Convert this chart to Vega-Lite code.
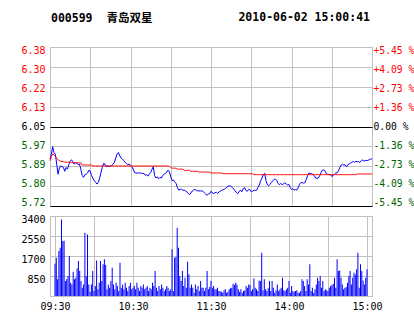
{
"$schema":"https://vega.github.io/schema/vega-lite/v6.json",
"padding":{"left":20,"top":12,"right":0,"bottom":4},
"background":"white",
"title":{"text":"2010-06-02 15:00:41","anchor":"end","frame":"group","offset":0,"dy":11.5,"dx":-2,"baseline":"top","font":"DejaVu Sans Mono","fontSize":11.5,"fontWeight":"bold","color":"black"},
"config":{
"view":{"stroke":"#c0c0c0","strokeWidth":1},
"axis":{"labelFont":"DejaVu Sans Mono","labelFontSize":10,"labelColor":"black","ticks":false,"tickSize":0,"domain":false,"gridColor":"#c0c0c0","gridOpacity":1,"gridWidth":1,"labelOverlap":false,"labelBound":false,"labelFlush":false},
"title":{"font":"DejaVu Sans Mono, Noto Sans CJK SC","fontSize":11.5,"fontWeight":"bold","color":"black","baseline":"top"}
},
"datasets":{"m":[
{"t":0,"p":5.915,"a":5.908,"v":1373},{"t":1,"p":5.935,"a":5.925,"v":1628},{"t":2,"p":5.966,"a":5.936,"v":707},{"t":3,"p":5.942,"a":5.933,"v":1911},{"t":4,"p":5.935,"a":5.926,"v":2053},{"t":5,"p":5.894,"a":5.918,"v":3255},{"t":6,"p":5.852,"a":5.912,"v":2337},{"t":7,"p":5.877,"a":5.908,"v":2350},{"t":8,"p":5.887,"a":5.906,"v":636},{"t":9,"p":5.883,"a":5.905,"v":707},
{"t":10,"p":5.880,"a":5.904,"v":848},{"t":11,"p":5.864,"a":5.902,"v":1699},{"t":12,"p":5.880,"a":5.902,"v":565},{"t":13,"p":5.873,"a":5.902,"v":494},{"t":14,"p":5.891,"a":5.902,"v":1033},{"t":15,"p":5.905,"a":5.902,"v":707},{"t":16,"p":5.912,"a":5.900,"v":778},{"t":17,"p":5.904,"a":5.900,"v":1174},{"t":18,"p":5.894,"a":5.900,"v":1486},{"t":19,"p":5.899,"a":5.900,"v":1061},
{"t":20,"p":5.897,"a":5.900,"v":636},{"t":21,"p":5.891,"a":5.899,"v":353},{"t":22,"p":5.894,"a":5.899,"v":494},{"t":23,"p":5.873,"a":5.899,"v":2690},{"t":24,"p":5.846,"a":5.890,"v":848},{"t":25,"p":5.839,"a":5.890,"v":2618},{"t":26,"p":5.850,"a":5.890,"v":494},{"t":27,"p":5.852,"a":5.890,"v":183},{"t":28,"p":5.857,"a":5.890,"v":494},{"t":29,"p":5.869,"a":5.890,"v":1061},
{"t":30,"p":5.864,"a":5.890,"v":211},{"t":31,"p":5.846,"a":5.890,"v":424},{"t":32,"p":5.835,"a":5.886,"v":1514},{"t":33,"p":5.825,"a":5.886,"v":283},{"t":34,"p":5.818,"a":5.886,"v":565},{"t":35,"p":5.811,"a":5.886,"v":1486},{"t":36,"p":5.818,"a":5.886,"v":636},{"t":37,"p":5.836,"a":5.886,"v":1345},{"t":38,"p":5.859,"a":5.886,"v":1557},{"t":39,"p":5.880,"a":5.886,"v":1316},
{"t":40,"p":5.897,"a":5.886,"v":283},{"t":41,"p":5.894,"a":5.886,"v":494},{"t":42,"p":5.883,"a":5.886,"v":353},{"t":43,"p":5.887,"a":5.886,"v":636},{"t":44,"p":5.884,"a":5.886,"v":1200},{"t":45,"p":5.886,"a":5.886,"v":494},{"t":46,"p":5.888,"a":5.886,"v":283},{"t":47,"p":5.894,"a":5.886,"v":565},{"t":48,"p":5.901,"a":5.886,"v":424},{"t":49,"p":5.919,"a":5.886,"v":211},
{"t":50,"p":5.935,"a":5.886,"v":1415},{"t":51,"p":5.942,"a":5.886,"v":353},{"t":52,"p":5.928,"a":5.886,"v":494},{"t":53,"p":5.919,"a":5.886,"v":283},{"t":54,"p":5.915,"a":5.886,"v":565},{"t":55,"p":5.908,"a":5.886,"v":353},{"t":56,"p":5.901,"a":5.886,"v":211},{"t":57,"p":5.897,"a":5.886,"v":424},{"t":58,"p":5.891,"a":5.886,"v":565},{"t":59,"p":5.894,"a":5.886,"v":283},
{"t":60,"p":5.889,"a":5.886,"v":353},{"t":61,"p":5.883,"a":5.886,"v":424},{"t":62,"p":5.873,"a":5.886,"v":283},{"t":63,"p":5.859,"a":5.886,"v":565},{"t":64,"p":5.857,"a":5.886,"v":353},{"t":65,"p":5.857,"a":5.886,"v":211},{"t":66,"p":5.857,"a":5.886,"v":424},{"t":67,"p":5.857,"a":5.886,"v":353},{"t":68,"p":5.857,"a":5.886,"v":494},{"t":69,"p":5.855,"a":5.886,"v":283},
{"t":70,"p":5.855,"a":5.886,"v":353},{"t":71,"p":5.848,"a":5.886,"v":424},{"t":72,"p":5.850,"a":5.886,"v":211},{"t":73,"p":5.844,"a":5.886,"v":353},{"t":74,"p":5.852,"a":5.886,"v":283},{"t":75,"p":5.859,"a":5.886,"v":565},{"t":76,"p":5.872,"a":5.886,"v":424},{"t":77,"p":5.883,"a":5.886,"v":1061},{"t":78,"p":5.846,"a":5.886,"v":353},{"t":79,"p":5.836,"a":5.886,"v":211},
{"t":80,"p":5.841,"a":5.886,"v":424},{"t":81,"p":5.833,"a":5.886,"v":283},{"t":82,"p":5.839,"a":5.886,"v":494},{"t":83,"p":5.836,"a":5.886,"v":353},{"t":84,"p":5.847,"a":5.886,"v":211},{"t":85,"p":5.852,"a":5.886,"v":283},{"t":86,"p":5.855,"a":5.886,"v":424},{"t":87,"p":5.861,"a":5.886,"v":353},{"t":88,"p":5.869,"a":5.886,"v":211},{"t":89,"p":5.862,"a":5.884,"v":283},
{"t":90,"p":5.841,"a":5.881,"v":1982},{"t":91,"p":5.825,"a":5.877,"v":211},{"t":92,"p":5.828,"a":5.877,"v":1628},{"t":93,"p":5.819,"a":5.877,"v":1657},{"t":94,"p":5.814,"a":5.877,"v":2900},{"t":95,"p":5.796,"a":5.873,"v":2053},{"t":96,"p":5.786,"a":5.873,"v":848},{"t":97,"p":5.789,"a":5.873,"v":636},{"t":98,"p":5.790,"a":5.873,"v":1060},{"t":99,"p":5.785,"a":5.873,"v":424},
{"t":100,"p":5.786,"a":5.868,"v":778},{"t":101,"p":5.783,"a":5.868,"v":353},{"t":102,"p":5.779,"a":5.868,"v":1458},{"t":103,"p":5.772,"a":5.868,"v":920},{"t":104,"p":5.767,"a":5.868,"v":353},{"t":105,"p":5.774,"a":5.864,"v":494},{"t":106,"p":5.782,"a":5.864,"v":353},{"t":107,"p":5.786,"a":5.864,"v":140},{"t":108,"p":5.789,"a":5.864,"v":494},{"t":109,"p":5.785,"a":5.864,"v":283},
{"t":110,"p":5.783,"a":5.864,"v":424},{"t":111,"p":5.783,"a":5.861,"v":211},{"t":112,"p":5.782,"a":5.861,"v":636},{"t":113,"p":5.783,"a":5.861,"v":353},{"t":114,"p":5.781,"a":5.861,"v":353},{"t":115,"p":5.775,"a":5.861,"v":211},{"t":116,"p":5.770,"a":5.861,"v":353},{"t":117,"p":5.764,"a":5.861,"v":1061},{"t":118,"p":5.770,"a":5.861,"v":283},{"t":119,"p":5.772,"a":5.861,"v":381},
{"t":120,"p":5.781,"a":5.857,"v":636},{"t":121,"p":5.774,"a":5.857,"v":353},{"t":122,"p":5.772,"a":5.857,"v":424},{"t":123,"p":5.775,"a":5.857,"v":283},{"t":124,"p":5.777,"a":5.857,"v":283},{"t":125,"p":5.772,"a":5.857,"v":353},{"t":126,"p":5.779,"a":5.857,"v":211},{"t":127,"p":5.782,"a":5.857,"v":211},{"t":128,"p":5.785,"a":5.857,"v":183},{"t":129,"p":5.788,"a":5.854,"v":140},
{"t":130,"p":5.790,"a":5.854,"v":240},{"t":131,"p":5.793,"a":5.854,"v":283},{"t":132,"p":5.799,"a":5.854,"v":140},{"t":133,"p":5.803,"a":5.854,"v":183},{"t":134,"p":5.804,"a":5.854,"v":283},{"t":135,"p":5.801,"a":5.854,"v":325},{"t":136,"p":5.797,"a":5.854,"v":353},{"t":137,"p":5.790,"a":5.854,"v":522},{"t":138,"p":5.783,"a":5.854,"v":466},{"t":139,"p":5.775,"a":5.854,"v":565},
{"t":140,"p":5.771,"a":5.854,"v":494},{"t":141,"p":5.781,"a":5.854,"v":283},{"t":142,"p":5.786,"a":5.854,"v":183},{"t":143,"p":5.779,"a":5.854,"v":283},{"t":144,"p":5.793,"a":5.854,"v":140},{"t":145,"p":5.796,"a":5.854,"v":211},{"t":146,"p":5.785,"a":5.854,"v":240},{"t":147,"p":5.781,"a":5.854,"v":424},{"t":148,"p":5.788,"a":5.854,"v":353},{"t":149,"p":5.788,"a":5.854,"v":494},
{"t":150,"p":5.779,"a":5.854,"v":466},{"t":151,"p":5.781,"a":5.854,"v":211},{"t":152,"p":5.785,"a":5.850,"v":283},{"t":153,"p":5.785,"a":5.850,"v":749},{"t":154,"p":5.785,"a":5.850,"v":353},{"t":155,"p":5.797,"a":5.850,"v":283},{"t":156,"p":5.807,"a":5.850,"v":211},{"t":157,"p":5.825,"a":5.850,"v":664},{"t":158,"p":5.836,"a":5.850,"v":636},{"t":159,"p":5.850,"a":5.850,"v":1840},
{"t":160,"p":5.855,"a":5.850,"v":240},{"t":161,"p":5.825,"a":5.850,"v":707},{"t":162,"p":5.808,"a":5.850,"v":283},{"t":163,"p":5.804,"a":5.850,"v":211},{"t":164,"p":5.810,"a":5.850,"v":325},{"t":165,"p":5.818,"a":5.850,"v":636},{"t":166,"p":5.824,"a":5.850,"v":211},{"t":167,"p":5.830,"a":5.850,"v":636},{"t":168,"p":5.832,"a":5.850,"v":353},{"t":169,"p":5.826,"a":5.850,"v":140},
{"t":170,"p":5.814,"a":5.850,"v":240},{"t":171,"p":5.808,"a":5.850,"v":494},{"t":172,"p":5.814,"a":5.850,"v":211},{"t":173,"p":5.808,"a":5.850,"v":283},{"t":174,"p":5.811,"a":5.850,"v":353},{"t":175,"p":5.817,"a":5.850,"v":778},{"t":176,"p":5.812,"a":5.850,"v":240},{"t":177,"p":5.807,"a":5.850,"v":211},{"t":178,"p":5.810,"a":5.850,"v":283},{"t":179,"p":5.797,"a":5.850,"v":353},
{"t":180,"p":5.789,"a":5.850,"v":636},{"t":181,"p":5.792,"a":5.850,"v":140},{"t":182,"p":5.786,"a":5.850,"v":424},{"t":183,"p":5.788,"a":5.850,"v":211},{"t":184,"p":5.786,"a":5.850,"v":183},{"t":185,"p":5.796,"a":5.850,"v":211},{"t":186,"p":5.810,"a":5.850,"v":240},{"t":187,"p":5.817,"a":5.850,"v":140},{"t":188,"p":5.817,"a":5.850,"v":140},{"t":189,"p":5.815,"a":5.850,"v":211},
{"t":190,"p":5.817,"a":5.850,"v":707},{"t":191,"p":5.830,"a":5.850,"v":636},{"t":192,"p":5.846,"a":5.850,"v":424},{"t":193,"p":5.857,"a":5.850,"v":211},{"t":194,"p":5.855,"a":5.850,"v":707},{"t":195,"p":5.855,"a":5.850,"v":494},{"t":196,"p":5.851,"a":5.850,"v":1345},{"t":197,"p":5.846,"a":5.850,"v":211},{"t":198,"p":5.835,"a":5.850,"v":353},{"t":199,"p":5.835,"a":5.850,"v":140},
{"t":200,"p":5.836,"a":5.850,"v":283},{"t":201,"p":5.846,"a":5.850,"v":494},{"t":202,"p":5.859,"a":5.850,"v":778},{"t":203,"p":5.869,"a":5.850,"v":636},{"t":204,"p":5.870,"a":5.850,"v":848},{"t":205,"p":5.865,"a":5.850,"v":353},{"t":206,"p":5.854,"a":5.850,"v":636},{"t":207,"p":5.851,"a":5.850,"v":211},{"t":208,"p":5.850,"a":5.850,"v":283},{"t":209,"p":5.851,"a":5.850,"v":240},
{"t":210,"p":5.843,"a":5.850,"v":211},{"t":211,"p":5.846,"a":5.850,"v":353},{"t":212,"p":5.852,"a":5.850,"v":424},{"t":213,"p":5.857,"a":5.850,"v":466},{"t":214,"p":5.858,"a":5.850,"v":522},{"t":215,"p":5.866,"a":5.850,"v":778},{"t":216,"p":5.880,"a":5.850,"v":353},{"t":217,"p":5.890,"a":5.850,"v":1557},{"t":218,"p":5.893,"a":5.850,"v":1061},{"t":219,"p":5.890,"a":5.850,"v":1089},
{"t":220,"p":5.891,"a":5.850,"v":778},{"t":221,"p":5.883,"a":5.850,"v":494},{"t":222,"p":5.891,"a":5.850,"v":283},{"t":223,"p":5.895,"a":5.850,"v":353},{"t":224,"p":5.898,"a":5.850,"v":381},{"t":225,"p":5.902,"a":5.850,"v":565},{"t":226,"p":5.905,"a":5.850,"v":848},{"t":227,"p":5.901,"a":5.850,"v":1061},{"t":228,"p":5.906,"a":5.850,"v":494},{"t":229,"p":5.904,"a":5.853,"v":778},
{"t":230,"p":5.904,"a":5.853,"v":990},{"t":231,"p":5.901,"a":5.853,"v":919},{"t":232,"p":5.908,"a":5.853,"v":1132},{"t":233,"p":5.911,"a":5.853,"v":1840},{"t":234,"p":5.906,"a":5.853,"v":353},{"t":235,"p":5.909,"a":5.853,"v":1345},{"t":236,"p":5.909,"a":5.853,"v":1061},{"t":237,"p":5.909,"a":5.853,"v":664},{"t":238,"p":5.913,"a":5.853,"v":494},{"t":239,"p":5.915,"a":5.853,"v":778},
{"t":240,"p":5.915,"a":5.853,"v":1132}
]},
"spacing":5,
"vconcat":[
{
"width":322,"height":159,
"title":{"text":"000599\u00a0\u00a0青岛双星","anchor":"start","frame":"group","offset":21,"dx":1},
"data":{"name":"m"},
"layer":[
{"mark":{"type":"line","color":"#0000ff","strokeWidth":1},
"encoding":{
"x":{"field":"t","type":"quantitative","title":null,"scale":{"domain":[0,240],"nice":false,"zero":false},
"axis":{"values":[0,30,60,90,120,150,180,210,240],"labels":false,"grid":true}},
"y":{"field":"p","type":"quantitative","title":null,"scale":{"domain":[5.72,6.38],"nice":false,"zero":false},
"axis":{"orient":"left","values":[5.72,5.8025,5.885,5.9675,6.05,6.1325,6.215,6.2975,6.38],"labelExpr":"format(datum.value + 0.0001, '.2f')","labelPadding":5,"labelBaseline":"middle","labelOffset":{"expr":"3.4 - 0.925 * (6.38 - datum.value) / 0.0825"},
"labelColor":{"condition":[{"test":"datum.value > 6.06","value":"#ff0000"},{"test":"datum.value < 6.04","value":"#006400"}],"value":"black"},
"gridColor":{"condition":{"test":"datum.value == 6.05 || datum.value == 5.72","value":"black"},"value":"#c0c0c0"}}}
}},
{"mark":{"type":"line","color":"#ff0000","strokeWidth":1},
"encoding":{
"x":{"field":"t","type":"quantitative","title":null},
"y":{"field":"a","type":"quantitative","title":null,"scale":{"domain":[5.72,6.38],"nice":false,"zero":false},
"axis":{"orient":"right","grid":false,"values":[5.72,5.8025,5.885,5.9675,6.05,6.1325,6.215,6.2975,6.38],"labelExpr":"(datum.value > 6.06 ? '+' : datum.value < 6.04 ? '-' : '\u00a0') + format(abs(datum.value - 6.05) / 6.05 * 100, '.2f') + '\u00a0%'","labelPadding":1,"labelFontSize":9.7,"labelBaseline":"middle","labelOffset":{"expr":"3.4 - 0.925 * (6.38 - datum.value) / 0.0825"},
"labelColor":{"condition":[{"test":"datum.value > 6.06","value":"#ff0000"},{"test":"datum.value < 6.04","value":"#006400"}],"value":"black"}}}
}}
],
"resolve":{"scale":{"y":"independent"},"axis":{"y":"independent"}}
},
{
"width":322,"height":80,
"data":{"name":"m"},
"mark":{"type":"bar","color":"#0000ff","width":1},
"encoding":{
"x":{"field":"t","type":"quantitative","title":null,"scale":{"domain":[0,240],"nice":false,"zero":false},
"axis":{"values":[0,30,60,90,120,150,180,210,240],"grid":true,"labelPadding":5,"labelExpr":"datum.value == 0 ? '09:30' : datum.value == 60 ? '10:30' : datum.value == 120 ? '11:30' : datum.value == 180 ? '14:00' : datum.value == 240 ? '15:00' : ''"}},
"y":{"field":"v","type":"quantitative","title":null,"scale":{"domain":[0,3400],"nice":false},
"axis":{"values":[0,850,1700,2550,3400],"labelExpr":"datum.value == 0 ? '' : datum.label","labelPadding":5,"labelOffset":3,"format":"d"}}
}
}
]
}
